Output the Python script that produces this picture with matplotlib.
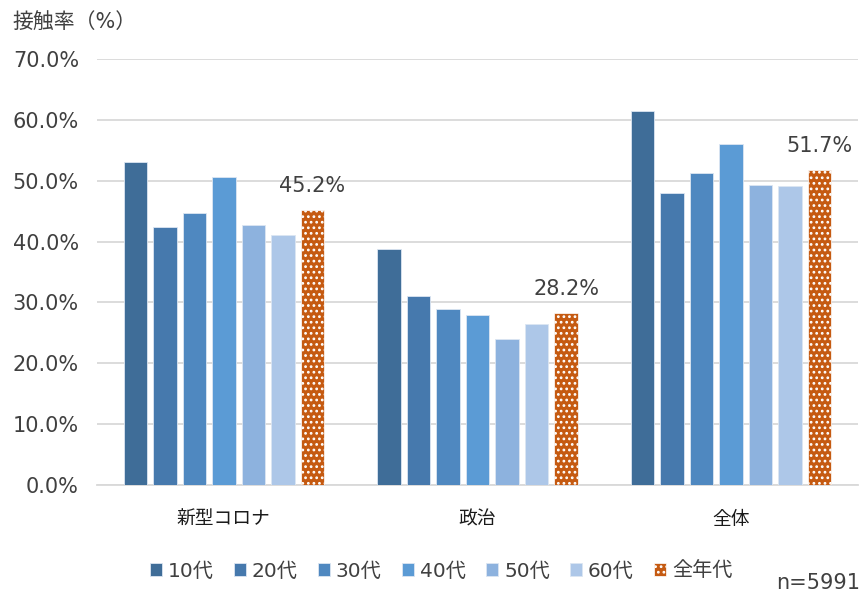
import matplotlib.pyplot as plt
import numpy as np

plt.rcParams['font.family'] = ['DejaVu Sans', 'Noto Sans CJK JP']
plt.rcParams['hatch.linewidth'] = 1.2

# Contact rate (%) by topic and age group
topics = ['新型コロナ', '政治', '全体']
ages = ['10代', '20代', '30代', '40代', '50代', '60代', '全年代']
rate_10s = [53.1, 38.7, 61.4]
rate_20s = [42.4, 31.1, 47.9]
rate_30s = [44.7, 28.9, 51.3]
rate_40s = [50.6, 27.9, 56.1]
rate_50s = [42.7, 24.0, 49.3]
rate_60s = [41.1, 26.5, 49.1]
rate_all = [45.2, 28.2, 51.7]
y_ticks = [0, 10, 20, 30, 40, 50, 60, 70]

series = [rate_10s, rate_20s, rate_30s, rate_40s, rate_50s, rate_60s, rate_all]
colors = ['#3f6d98', '#4679ad', '#4f88c0', '#5b9bd5', '#8db2de', '#adc7e8', '#c55a11']

fig = plt.figure(figsize=(8.61, 5.92), dpi=100)
ax = fig.add_axes([97 / 861, 1 - 485 / 592, 761 / 861, 426 / 592])

x = np.arange(len(topics))
step = 0.1163
width = 0.093
for i, (vals, color, label) in enumerate(zip(series, colors, ages)):
    pos = x + (i - 3) * step
    if label == '全年代':
        bars = ax.bar(pos, vals, width, color=color, edgecolor='white',
                      linewidth=0.5, hatch='...', label=label, zorder=3)
        for b, v in zip(bars, vals):
            ax.annotate(f'{v:.1f}%', (b.get_x() + b.get_width() / 2, v),
                        xytext=(0, 13), textcoords='offset points',
                        ha='center', va='baseline', fontsize=15, color='#404040')
    else:
        ax.bar(pos, vals, width, color=color, edgecolor='#dce6f2',
               linewidth=0.6, label=label, zorder=3)

ax.set_xlim(-0.5, 2.5)
ax.set_ylim(0, 70)
ax.set_yticks(y_ticks)
ax.set_yticklabels([f'{t:.1f}%' for t in y_ticks])
ax.set_xticks(x)
ax.set_xticklabels(topics)
ax.tick_params(axis='y', length=0, labelsize=15, labelcolor='#404040', pad=13)
ax.tick_params(axis='x', length=0, labelsize=13.5, labelcolor='#1a1a1a', pad=18)
ax.grid(axis='y', color='#d9d9d9', linewidth=1.3, zorder=0)
for side in ['top', 'right', 'left']:
    ax.spines[side].set_visible(False)
ax.spines['bottom'].set_color('#d9d9d9')
ax.spines['bottom'].set_linewidth(1.3)

fig.text(12 / 861, 1 - 22 / 592, '接触率（%）', fontsize=15, color='#404040', va='center')
fig.text(860 / 861, 1 - 583 / 592, 'n=5991', fontsize=15, color='#404040', ha='right', va='center')

fig.legend(loc='center', bbox_to_anchor=(441 / 861, 1 - 571 / 592), ncol=7,
           frameon=False, fontsize=14.5, handlelength=0.6, handleheight=0.6,
           handletextpad=0.3, columnspacing=1.0, labelcolor='#404040')

fig.savefig('out.png', dpi=100)
